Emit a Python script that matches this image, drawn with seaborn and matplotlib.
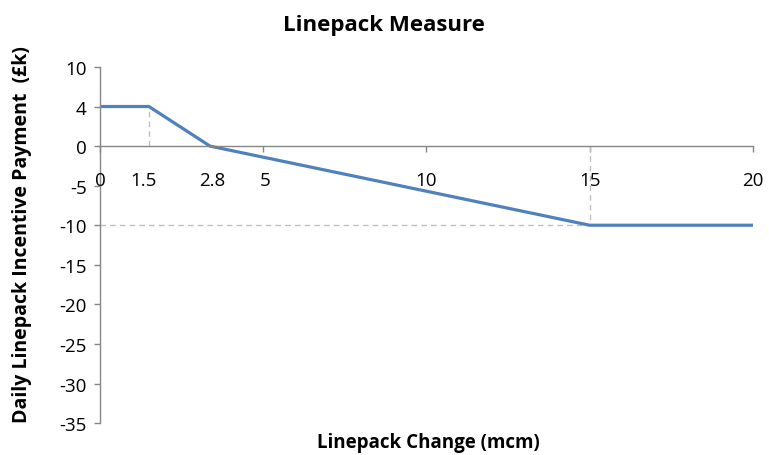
import matplotlib
matplotlib.use("Agg")
import matplotlib.pyplot as plt
import seaborn as sns
import pandas as pd

sns.set_style("white")
plt.rcParams["font.family"] = ["Open Sans", "DejaVu Sans"]
plt.rcParams["text.color"] = "black"
plt.rcParams["ytick.labelcolor"] = "black"

# breakpoints of the incentive curve (as drawn)
change_mcm = [0, 1.5, 3.37, 15, 20]
payment_k = [5, 5, 0, -10, -10]

# axis ticks / labels
y_ticks = [10, 5, 0, -5, -10, -15, -20, -25, -30, -35]
y_labels = ["10", "4", "0", "-5", "-10", "-15", "-20", "-25", "-30", "-35"]
x_ticks = [0, 5, 10, 15, 20]
x_label_pos = [0, 1.32, 3.43, 5.05, 10, 15, 20]
x_label_txt = ["0", "1.5", "2.8", "5", "10", "15", "20"]

df = pd.DataFrame({"change": change_mcm, "payment": payment_k})

fig = plt.figure(figsize=(7.69, 4.56), dpi=100)
ax = fig.add_axes([0.130, 0.070, 0.849, 0.781])

grey = "#868686"
dash = "#BFBFBF"
# guide lines
ax.plot([1.5, 1.5], [0, 5], ls=(0, (4, 3)), color=dash, lw=1)
ax.plot([15, 15], [0, -10], ls=(0, (4, 3)), color=dash, lw=1)
ax.plot([0, 15], [-10, -10], ls=(0, (4, 3)), color=dash, lw=1)

sns.lineplot(data=df, x="change", y="payment", color="#4F81BD", lw=2.3, ax=ax)

ax.set_xlim(0, 20)
ax.set_ylim(-35, 10)
ax.set_yticks(y_ticks)
ax.set_yticklabels(y_labels, fontsize=13.5, color="black")
ax.set_xticks(x_ticks)
ax.set_xticklabels([])
ax.set_xlabel("")
ax.set_ylabel("")

ax.spines["top"].set_visible(False)
ax.spines["right"].set_visible(False)
ax.spines["bottom"].set_position(("data", 0))
for s in ["left", "bottom"]:
    ax.spines[s].set_color(grey)
    ax.spines[s].set_linewidth(1)
ax.tick_params(axis="both", direction="out", length=4.5, color=grey, width=1,
               left=True, bottom=True, pad=5)

for xp, t in zip(x_label_pos, x_label_txt):
    ax.text(xp, -4.3, t, ha="center", va="center", fontsize=13.5, color="black")

fig.text(0.557, 0.028, "Linepack Change (mcm)", ha="center", va="center",
         fontsize=13.5, fontweight="bold", color="black")
fig.text(0.028, 0.485, "Daily Linepack Incentive Payment  (£k)", ha="center",
         va="center", rotation=90, fontsize=14, fontweight="bold", color="black")
fig.text(0.499, 0.945, "Linepack Measure", ha="center", va="center",
         fontsize=16, fontweight="bold", color="black")

plt.savefig("out.png", dpi=100)
plt.close()
